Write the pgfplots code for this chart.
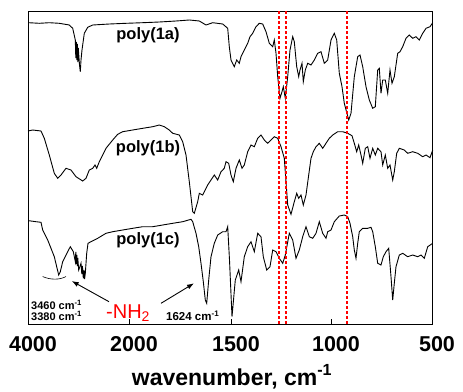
\documentclass[border=0pt]{standalone}
\usepackage{pgfplots}
\pgfplotsset{compat=1.18}
\usepackage{fontspec}
\setmainfont{Liberation Sans}
\usetikzlibrary{arrows.meta}
\definecolor{dashred}{RGB}{255,0,0}
\begin{document}
\begin{tikzpicture}
\begin{axis}[
  at={(0,0)}, anchor=south west,
  scale only axis, width=404pt, height=313pt,
  xmin=28, xmax=432, ymin=11, ymax=324, y dir=reverse,
  axis line style={line width=0.8pt},
  xtick={28,129,231,331,432},
  xticklabels={4000,2000,1500,1000,500},
  xtick pos=bottom, tick align=inside, major tick length=5pt,
  tick style={line width=0.8pt, black},
  ytick=\empty,
  xticklabel style={font=\fontsize{21.5}{21.5}\selectfont\bfseries, anchor=base, yshift=-27pt, xshift=5pt},
  xlabel={wavenumber, cm\textsuperscript{-1}},
  xlabel style={font=\fontsize{23}{23}\selectfont\bfseries, at={(axis description cs:0.505,0)}, anchor=base, yshift=-61pt},
  clip=false,
]
% poly(1a)
\addplot[black, line width=0.9pt] coordinates {
(28.7,22.7)(39.3,23.3)(49.3,22.7)(59.3,23.3)(69.3,25)(72.7,28.3)(75.3,40)(75.8,58)(76.3,42)(76.8,60)(77.3,44)(77.8,62)(78.3,48)(79.5,65)(80.3,71.7)(81,60)(82,50)(84.3,33.3)(87.7,27.3)(92.7,25)(109.3,24)(126,23.3)(142.7,22.7)(159.3,22)(176,21)(189.3,20)(199.3,21)(206,25)(212.7,22.7)(222.7,24)(227.7,28.3)
(229.3,46.7)(231,60)(234.3,66.7)(236.7,60)(239.3,63.3)(241,56.7)(244.3,50)(247.7,43.3)(250,36.7)(252.7,33.3)(256,26.7)(259.3,23.3)(262.7,24)(266,31.7)(269.3,43.3)(272.7,46.7)(274.3,40)(276,53.3)(277.7,76.7)(280,98.3)(282,91.7)(283.3,86.7)(285.3,98.3)(287.7,76.7)(290,50)(292.7,36.7)(294.3,41.7)(296.7,66.7)(298.7,76.7)(300,70)(302,63.3)(303.3,81.7)(305.3,70)(307.7,63.3)(311,65)(314.3,60)(317.7,53.3)(321,51.7)(324.3,63.3)(327.7,60)(331,40)(334.3,33.3)(336.7,40)(339.3,73.3)(342,86.7)(344.3,103.3)(348.7,120)(351,113.3)(354.3,76.7)(357.7,56.7)(360,55)(362.7,66.7)(366,86.7)(369.3,100)(372.7,108.3)(375.3,106.7)(377.7,70)(379.3,68.3)(381,93.3)(382.7,80)(385.3,80)(387.7,93.3)(390,70)(392,83.3)(394.3,76.7)(397.7,53.3)(400,51.7)(402.7,46.7)(406,38.3)(409.3,35)(412.7,38.3)(416,36.7)(419.3,40)(422.7,33.3)(426,28.3)(430,26.7)(432.7,22.7)
};
% poly(1b)
\addplot[black, line width=0.9pt] coordinates {
(28,131)(32.7,130)(41,131)(44.3,138.3)(49.3,155)(54.3,173.3)(57.7,178.3)(61,175)(66,168.3)(71,170)(76,176.7)(82.7,181)(86,178.3)(89.3,170)(92.7,168.3)(95,165)(96.7,168.3)(99.3,161.7)(102.7,155)(106,148.3)(112.7,140)(117.7,134.3)(122.7,131.7)(132.7,130)(142.7,128.3)(152.7,126.7)(159.3,125)(164.3,126.7)(169.3,130)(172.7,133.3)(179.3,135)(182.7,141.7)(186,155)(189.3,181.7)(192.7,211.7)(194.3,213.3)(197.7,201.7)(199.3,193.3)(202.7,195)(207.7,185)(211,180)(214.3,175)(217.7,180)(221,171.7)(224.3,168.3)(226,161.7)(228.7,163.3)
(231,175)(233.3,181.7)(236,168.3)(239.3,160)(242,168.3)(244.3,165)(247.7,151.7)(251,145)(254.3,146.7)(257.7,138.3)(261,135)(264.3,140)(267.7,143.3)(271,140)(274.3,136.7)(277.7,138.3)(281,146.7)(284.3,158.3)(286,181.7)(287.7,205)(291,214.3)(294.3,201.7)(296.7,193.3)(298.7,198.3)(301,195)(303.3,205)(306,195)(308.7,175)(311,158.3)(313.3,151.7)(316,146.7)(319.3,143.3)(322.7,148.3)(326,143.3)(329.3,138.3)(332.7,135)(337.7,131.7)(342.7,131.7)(347.7,133.3)(352,135.7)(354.3,143.3)(356.7,151.7)(358.7,145)(361,155)(362.7,163.3)(365.3,148.3)(367.7,146.7)(370,158.3)(372.7,148.3)(375.3,155)(377.7,148.3)(381,151.7)(382.7,165)(385.3,155)(387.7,168.3)(390,165)(392.7,180)(394.3,171.7)(396.7,153.3)(399.3,148.3)(404.3,150)(407.7,153.3)(412.7,151.7)(417.7,153.3)(422.7,156.7)(426,155)(430,157.7)(432.7,150)
};
% poly(1c)
\addplot[black, line width=0.9pt] coordinates {
(28.7,220.7)(36,221.7)(41,222.3)(42.7,230)(47.7,240)(51,248.3)(54.3,256.7)(56.7,266.7)(58.7,275)(60.3,271.7)(62.7,261.7)(66,255)(70.3,246.7)(73.3,251.7)(75.3,261.7)(75.8,252)(76.3,264)(76.8,255)(77.3,266)(77.8,258)(78.7,270)(81,263.3)(81.8,274)(82.4,266)(83.3,278.3)(84,270)(84.6,279)(85.3,273.3)(86.7,253.3)(88,243.3)(91,241.7)(94.3,240)(97.7,238.3)(106,233.3)(112.7,231.7)(122.7,230)(132.7,228.3)(142.7,226.7)(152.7,226.7)(162.7,225)(172.7,223.3)(182.7,221.7)(191,219.3)(192.7,221.7)(196,233.3)(198.7,246.7)(201,263.3)(203.3,281.7)(205.3,300)(206.7,303.3)(208.7,280)(211,256.7)(214.3,243.3)(217.7,235)(222.7,231.7)(226,231.7)(227.7,226.7)(229.5,260)(232,316.7)(235.3,280)(238.7,270)(241,281.7)(244.3,256.7)(247.7,246.7)(251,241.7)(254.3,251.7)(257.7,233.3)(261,236.7)(263.3,256.7)(266.7,270)(270,266.7)(272.7,250)(276,251.7)(279.3,258.3)(282.7,263.3)(285.3,255)(289.3,233.3)(292.7,240)(296,258.3)(299.3,250)(302.7,236.7)(306,226.7)(309.3,236.7)(312.7,238.3)(316,233.3)(319.3,221.7)(322.7,233.3)(326,238.3)(327.7,231.7)(331,230)(334.3,221.7)(339.3,216)(344.3,215)(347.7,216.7)(350,223.3)(352.7,236.7)(354.3,250)(356,258.3)(357.7,243.3)(359.3,231.7)(362.7,228.3)(367.7,228.3)(371,227.3)(372.7,231.7)(375.3,246.7)(377.7,263.3)(381,265)(383.3,256.7)(386,251.7)(388.7,248.3)(391,276.7)(392.7,300)(394.3,283.3)(396,266.7)(399.3,255)(402.7,253.3)(407.7,256.7)(412.7,255)(417.7,256.7)(421,255)(424.3,258.3)(427.7,246.7)(432.7,243.3)
};
% red dashed markers
\draw[draw=dashred, line width=1.8pt, dash pattern=on 3pt off 2pt] (axis cs:279.3,11) -- (axis cs:279.3,324);
\draw[draw=dashred, line width=1.8pt, dash pattern=on 3pt off 2pt] (axis cs:286.3,11) -- (axis cs:286.3,324);
\draw[draw=dashred, line width=1.8pt, dash pattern=on 3pt off 2pt] (axis cs:347.3,11) -- (axis cs:347.3,324);
% labels
\node[font=\fontsize{16.5}{16.5}\selectfont\bfseries] at (axis cs:148,35) {poly(1a)};
\node[font=\fontsize{16.5}{16.5}\selectfont\bfseries] at (axis cs:148,148) {poly(1b)};
\node[font=\fontsize{16.5}{16.5}\selectfont\bfseries] at (axis cs:148,240) {poly(1c)};
\node[font=\fontsize{11}{11.5}\selectfont\bfseries, anchor=base west, inner sep=0pt, align=left] at (axis cs:31,320.5) {3460 cm\textsuperscript{-1}\\3380 cm\textsuperscript{-1}};
\node[font=\fontsize{11.5}{11.5}\selectfont\bfseries, anchor=base west, inner sep=0pt] at (axis cs:166,320.5) {1624 cm\textsuperscript{-1}};
\node[font=\fontsize{20}{20}\selectfont, text=red, anchor=base west, inner sep=0pt] at (axis cs:106,318) {-NH\textsubscript{2}};
\draw[line width=0.9pt, -{Latex[length=7pt,width=5pt]}] (axis cs:109,301.7) -- (axis cs:71.7,281);
\draw[line width=0.9pt, -{Latex[length=7pt,width=5pt]}] (axis cs:161,303.3) -- (axis cs:194,283.3);
\draw[line width=0.6pt] (axis cs:42.7,276.5) .. controls (axis cs:50,280) and (axis cs:60,280) .. (axis cs:66,276.5);
\end{axis}
\path[use as bounding box] (-28pt,-66pt) rectangle (435pt,324pt);
\end{tikzpicture}
\end{document}
